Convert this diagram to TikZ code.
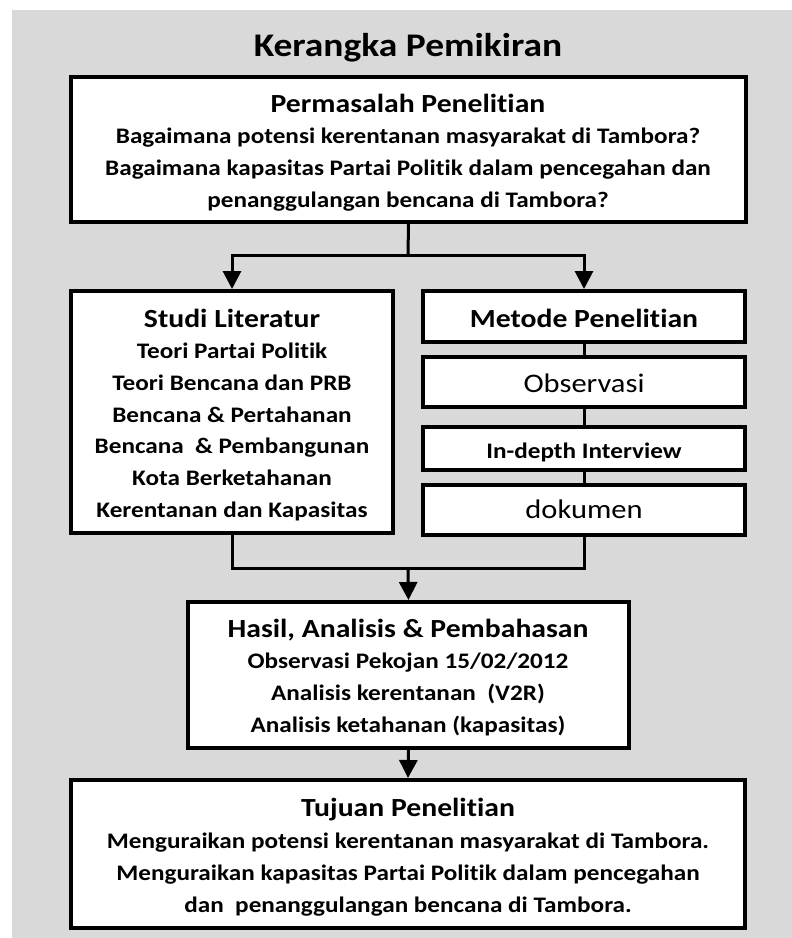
\documentclass[tikz,border=0pt]{standalone}
\usepackage{fontspec}
\setmainfont{Carlito}[Ligatures={NoCommon}]
\usetikzlibrary{arrows.meta}
\definecolor{bggray}{RGB}{217,217,217}
\newcommand\sq[1]{\scalebox{1}[0.88]{#1}}
\begin{document}
\begin{tikzpicture}[x=1pt,y=-1pt,
  box/.style={draw=black, line width=4pt, fill=white, rectangle, inner sep=0pt},
  body/.style={anchor=base, inner sep=0pt, font=\fontsize{25.2}{28}\selectfont\bfseries},
  head/.style={anchor=base, inner sep=0pt, font=\fontsize{29.7}{34}\selectfont\bfseries},
  reg/.style={anchor=base, inner sep=0pt, font=\fontsize{30.5}{34}\selectfont},
  ttl/.style={anchor=base, inner sep=0pt, font=\fontsize{37.5}{42}\selectfont\bfseries},
  conn/.style={draw=black, line width=3pt},
  arr/.style={conn, -{Triangle[length=18pt,width=18pt]}}]
\useasboundingbox (0,0) rectangle (792,938);
\fill[bggray] (12,10) rectangle (792,938);

% title
\node[ttl] (title) at (408,56) {\sq{Kerangka Pemikiran}};

% boxes
\node[box, minimum width=675pt, minimum height=145pt] (top) at (408.5,149.5) {};
\node[box, minimum width=322pt, minimum height=242pt] (studi) at (232,412) {};
\node[box, minimum width=322pt, minimum height=51pt] (metode) at (584,316.5) {};
\node[box, minimum width=322pt, minimum height=50pt] (obs) at (584,382) {};
\node[box, minimum width=322pt, minimum height=43pt] (indepth) at (584,448.5) {};
\node[box, minimum width=322pt, minimum height=50pt] (dok) at (584,510) {};
\node[box, minimum width=441pt, minimum height=146pt] (hasil) at (408.5,675) {};
\node[box, minimum width=674pt, minimum height=148pt] (tujuan) at (408,854) {};

% connectors
\coordinate (split) at (408,255);
\coordinate (join) at (408,568);
\draw[conn] (top.south) -- (split);
\draw[arr] (split) -| (studi.north);
\draw[arr] (split) -| (metode.north);
\draw[conn] (metode.south) -- (obs.north);
\draw[conn] (obs.south) -- (indepth.north);
\draw[conn] (indepth.south) -- (dok.north);
\draw[conn] (studi.south) |- (join);
\draw[conn] (dok.south) |- (join);
\draw[arr] (join) -- (hasil.north);
\draw[arr] (hasil.south) -- (tujuan.north);

% top box text
\node[head] (t0) at (408,112) {\sq{Permasalah Penelitian}};
\node[body] (t1) at (408,143) {\sq{Bagaimana potensi kerentanan masyarakat di Tambora?}};
\node[body] (t2) at (408,175) {\sq{Bagaimana kapasitas Partai Politik dalam pencegahan dan}};
\node[body] (t3) at (408,207) {\sq{penanggulangan bencana di Tambora?}};

% studi literatur
\node[head] (s0) at (232,327) {\sq{Studi Literatur}};
\node[body] (s1) at (232,358) {\sq{Teori Partai Politik}};
\node[body] (s2) at (232,390) {\sq{Teori Bencana dan PRB}};
\node[body] (s3) at (232,422) {\sq{Bencana \& Pertahanan}};
\node[body] (s4) at (232,453) {\sq{Bencana\ \ \& Pembangunan}};
\node[body] (s5) at (232,485) {\sq{Kota Berketahanan}};
\node[body] (s6) at (232,517) {\sq{Kerentanan dan Kapasitas}};

% metode
\node[head] (m0) at (584,327) {\sq{Metode Penelitian}};
\node[reg] (m1) at (584,392) {\sq{Observasi}};
\node[body] (m2) at (584,458) {\sq{In-depth Interview}};
\node[reg] (m3) at (584,518) {\sq{dokumen}};

% hasil
\node[head] (h0) at (408,637) {\sq{Hasil, Analisis \& Pembahasan}};
\node[body] (h1) at (408,668) {\sq{Observasi Pekojan 15/02/2012}};
\node[body] (h2) at (408,700) {\sq{Analisis kerentanan\ \ (V2R)}};
\node[body] (h3) at (408,732) {\sq{Analisis ketahanan (kapasitas)}};

% tujuan
\node[head] (u0) at (408,816) {\sq{Tujuan Penelitian}};
\node[body] (u1) at (408,848) {\sq{Menguraikan potensi kerentanan masyarakat di Tambora.}};
\node[body] (u2) at (408,880) {\sq{Menguraikan kapasitas Partai Politik dalam pencegahan}};
\node[body] (u3) at (408,912) {\sq{dan\ \ penanggulangan bencana di Tambora.}};
\end{tikzpicture}
\end{document}
